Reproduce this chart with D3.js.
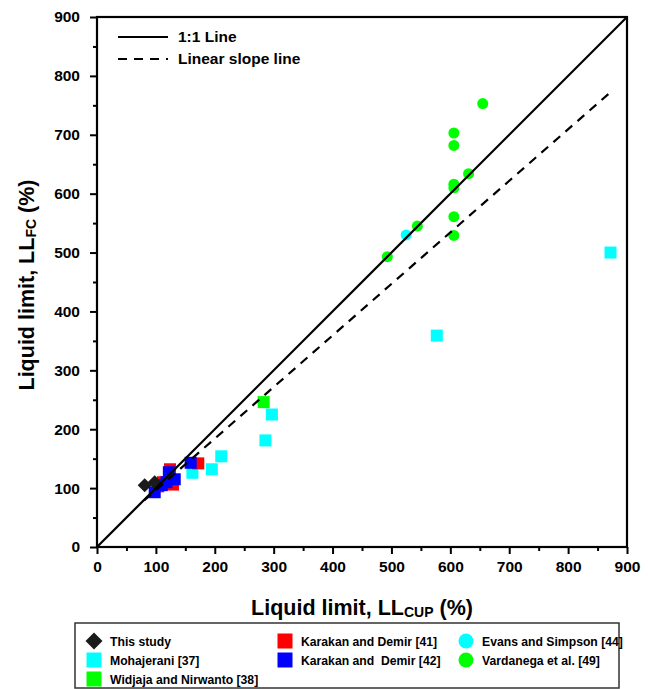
<!DOCTYPE html>
<html lang="en">
<head>
<meta charset="UTF-8">
<title>Liquid limit comparison</title>
<script src="https://d3js.org/d3.v7.min.js"></script>
<style>
  body { margin: 0; background: #fff; }
  svg { font-family: "Liberation Sans", Arial, sans-serif; font-weight: bold; }
</style>
</head>
<body>
<svg width="648" height="689"></svg>
<script>
// data: [LL cup, LL fall cone]
const thisStudy = [[81, 105], [98, 110]];
const mohajerani = [[162, 126], [195, 132], [211, 154], [286, 181], [297, 225], [577, 359], [872, 500]];
const widjaja = [[283, 246]];
const karakan41 = [[104, 103], [112, 110], [124, 132], [129, 106], [172, 142]];
const karakan42 = [[98, 93], [110, 105], [118, 110], [122, 127], [132, 115], [159, 143]];
const evans = [[525, 530]];
const vardanega = [[493, 493], [544, 545], [606, 529], [606, 561], [606, 610], [606, 616], [631, 634], [606, 682], [606, 703], [655, 753]];

const oneToOne = [[0, 0], [900, 900]];
const slopeLine = [[80, 79], [875, 775]];
const ticks = [0, 100, 200, 300, 400, 500, 600, 700, 800, 900];
const minorTicks = [50, 150, 250, 350, 450, 550, 650, 750, 850];

const svg = d3.select("svg");
const x = d3.scaleLinear().domain([0, 900]).range([97, 627]);
const y = d3.scaleLinear().domain([0, 900]).range([547, 17]);

// series drawn in this order (later on top)
const series = [
  { name: "Mohajerani [37]", data: mohajerani, shape: "square", color: "#00ffff" },
  { name: "Widjaja and Nirwanto [38]", data: widjaja, shape: "square", color: "#00ff00" },
  { name: "Karakan and Demir [41]", data: karakan41, shape: "square", color: "#ff0000" },
  { name: "Karakan and  Demir [42]", data: karakan42, shape: "square", color: "#0000ff" },
  { name: "Evans and Simpson [44]", data: evans, shape: "circle", color: "#00ffff" },
  { name: "Vardanega et al. [49]", data: vardanega, shape: "circle", color: "#00ff00" },
  { name: "This study", data: thisStudy, shape: "diamond", color: "#1a1a1a" }
];

function drawMarker(g, shape, color, s) {
  if (shape === "square") {
    g.append("rect").attr("x", -s / 2).attr("y", -s / 2).attr("width", s).attr("height", s).attr("fill", color);
  } else if (shape === "circle") {
    g.append("circle").attr("r", s / 2).attr("fill", color);
  } else {
    const h = s / 2 + 1;
    g.append("path").attr("d", `M0,${-h}L${h},0L0,${h}L${-h},0Z`).attr("fill", color);
  }
}

const pts = svg.append("g");
series.forEach(sr => {
  sr.data.forEach(d => {
    const g = pts.append("g").attr("transform", `translate(${x(d[0])},${y(d[1])})`);
    drawMarker(g, sr.shape, sr.color, sr.shape === "circle" ? 11 : 12);
  });
});

// lines over markers
const line = d3.line().x(d => x(d[0])).y(d => y(d[1]));
svg.append("path").attr("d", line(oneToOne)).attr("stroke", "#000").attr("stroke-width", 2.2).attr("fill", "none");
svg.append("path").attr("d", line(slopeLine)).attr("stroke", "#000").attr("stroke-width", 2.2)
  .attr("stroke-dasharray", "9,7").attr("fill", "none");

// axes
const xAxis = d3.axisBottom(x).tickValues(ticks).tickSize(7).tickPadding(7).tickFormat(d3.format("d"));
const yAxis = d3.axisLeft(y).tickValues(ticks).tickSize(7).tickPadding(10).tickFormat(d3.format("d"));
const gx = svg.append("g").attr("transform", "translate(0,547)").call(xAxis);
const gy = svg.append("g").attr("transform", "translate(97,0)").call(yAxis);
svg.append("g").attr("transform", "translate(0,547)")
  .call(d3.axisBottom(x).tickValues(minorTicks).tickSize(4).tickFormat(""));
svg.append("g").attr("transform", "translate(97,0)")
  .call(d3.axisLeft(y).tickValues(minorTicks).tickSize(4).tickFormat(""));
svg.selectAll(".domain").remove();
svg.selectAll(".tick line").attr("stroke", "#000").attr("stroke-width", 2);
[gx, gy].forEach(g => g.selectAll("text").attr("font-size", 15.5).attr("font-weight", "bold")
  .attr("font-family", "'Liberation Sans', Arial, sans-serif").attr("fill", "#000"));

// frame
svg.append("rect").attr("x", 97).attr("y", 17).attr("width", 530).attr("height", 530)
  .attr("fill", "none").attr("stroke", "#000").attr("stroke-width", 2.2);

// axis titles
const xt = svg.append("text").attr("x", 362).attr("y", 615).attr("text-anchor", "middle").attr("font-size", 21.5);
xt.append("tspan").text("Liquid limit, LL");
xt.append("tspan").attr("font-size", 14).attr("dy", 2).text("CUP");
xt.append("tspan").attr("dy", -2).text(" (%)");

const yt = svg.append("text").attr("transform", "translate(34,285) rotate(-90)").attr("text-anchor", "middle").attr("font-size", 21.5);
yt.append("tspan").text("Liquid limit, LL");
yt.append("tspan").attr("font-size", 14).attr("dy", 2).text("FC");
yt.append("tspan").attr("dy", -2).text(" (%)");

// inner legend for lines
const lineKeys = [
  { label: "1:1 Line", dash: null },
  { label: "Linear slope line", dash: "9,7" }
];
lineKeys.forEach((k, i) => {
  const ly = 37 + i * 22;
  svg.append("line").attr("x1", 118).attr("x2", 168).attr("y1", ly).attr("y2", ly)
    .attr("stroke", "#000").attr("stroke-width", 2.2).attr("stroke-dasharray", k.dash);
  svg.append("text").attr("x", 178).attr("y", ly + 5).attr("font-size", 15.5).text(k.label);
});

// bottom legend
svg.append("rect").attr("x", 75).attr("y", 623).attr("width", 544).attr("height", 65)
  .attr("fill", "#fff").attr("stroke", "#333").attr("stroke-width", 1.5);
const legendOrder = [
  ["This study", 0, 0], ["Mohajerani [37]", 0, 1], ["Widjaja and Nirwanto [38]", 0, 2],
  ["Karakan and Demir [41]", 1, 0], ["Karakan and  Demir [42]", 1, 1],
  ["Evans and Simpson [44]", 2, 0], ["Vardanega et al. [49]", 2, 1]
];
const colX = [94, 285, 466];
const rowY = [641, 660, 679];
legendOrder.forEach(([name, c, r]) => {
  const sr = series.find(s => s.name === name);
  const g = svg.append("g").attr("transform", `translate(${colX[c]},${rowY[r]})`);
  drawMarker(g, sr.shape, sr.color, 15);
  svg.append("text").attr("x", colX[c] + 16).attr("y", rowY[r] + 4.5).attr("font-size", 12.2)
    .attr("xml:space", "preserve").style("white-space", "pre").text(name);
});
</script>
</body>
</html>
